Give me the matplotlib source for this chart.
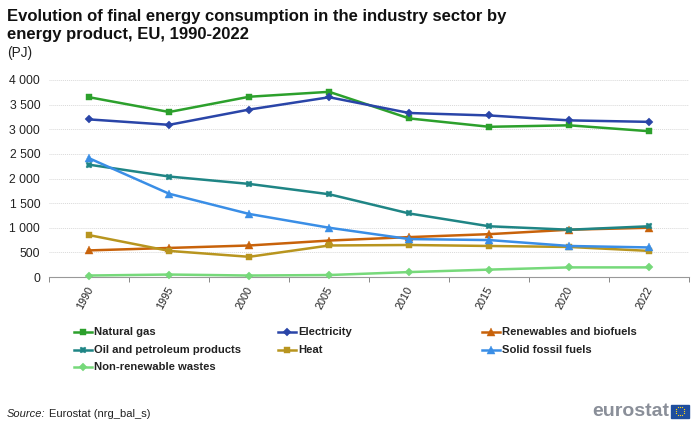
import matplotlib
matplotlib.use("Agg")
import matplotlib.pyplot as plt
from matplotlib.lines import Line2D
from matplotlib.patches import Rectangle
import numpy as np

plt.rcParams['font.family'] = ['Liberation Sans', 'DejaVu Sans']

W, H = 700, 423

years = ["1990", "1995", "2000", "2005", "2010", "2015", "2020", "2022"]
natural_gas = [3650, 3350, 3660, 3760, 3220, 3050, 3080, 2960]
electricity = [3200, 3090, 3400, 3650, 3330, 3280, 3180, 3150]
renewables = [540, 590, 640, 740, 810, 870, 960, 1000]
oil = [2280, 2040, 1890, 1680, 1290, 1030, 960, 1030]
heat = [850, 530, 410, 640, 650, 630, 610, 530]
solid_fossil = [2410, 1690, 1280, 1000, 770, 750, 630, 600]
wastes = [30, 50, 30, 40, 100, 150, 195, 195]
y_ticks = [0, 500, 1000, 1500, 2000, 2500, 3000, 3500, 4000]

# legend layout is row by row
series = [
    ("Natural gas", natural_gas, "#2ca02c", "s", 4.8),
    ("Electricity", electricity, "#2a45a8", "D", 3.6),
    ("Renewables and biofuels", renewables, "#c8620a", "^", 5.2),
    ("Oil and petroleum products", oil, "#1f8585", "X", 4.8),
    ("Heat", heat, "#b8951f", "s", 4.8),
    ("Solid fossil fuels", solid_fossil, "#3a8ee6", "^", 5.2),
    ("Non-renewable wastes", wastes, "#76d97a", "D", 3.6),
]


def fx(px):
    return px / W


def fy(px):
    return 1 - px / H


fig = plt.figure(figsize=(W / 100, H / 100), dpi=100)
ax = fig.add_axes([fx(49.2), fy(277), 640 / W, (277 - 80) / H])

x = np.arange(len(years))
for name, vals, color, marker, size in series:
    ax.plot(x, vals, color=color, lw=1.8, marker=marker, ms=size, mew=0.3, clip_on=False, zorder=3)

ax.set_xlim(-0.5, len(years) - 0.5)
ax.set_ylim(0, 4000)
ax.set_yticks(y_ticks)
ax.set_yticklabels([f"{v:,}".replace(",", " ") for v in y_ticks], fontsize=8.8, color="#222222")
ax.set_xticks(np.arange(len(years) + 1) - 0.5)
ax.set_xticklabels([])
ax.tick_params(axis="x", length=3.5, width=0.7, color="#888888")
ax.tick_params(axis="y", length=0, pad=6.5)
ax.grid(axis="y", color="#d9d9d9", lw=0.7, ls=(0, (1, 1)))
ax.set_axisbelow(True)
for side in ["top", "left", "right"]:
    ax.spines[side].set_visible(False)
ax.spines["bottom"].set_color("#999999")

for i, year in enumerate(years):
    ax.annotate(year, (i, 0), xytext=(-3.2, -5.5), textcoords="offset points", rotation=62,
                ha="center", va="top", fontsize=7.8, color="#222222")

fig.text(fx(7), fy(42), "Evolution of final energy consumption in the industry sector by\nenergy product, EU, 1990-2022",
         fontsize=12, fontweight="bold", color="#111111", va="bottom", linespacing=1.25)
fig.text(fx(7), fy(60), "(PJ)", fontsize=9.8, color="#222222", va="bottom")

# legend placed by hand, columns are not evenly spaced
leg_x = [74, 278, 482]
leg_y = [332, 349.5, 366.5]
for i, (name, vals, color, marker, size) in enumerate(series):
    lx = leg_x[i % 3]
    ly = leg_y[i // 3]
    fig.add_artist(Line2D([fx(lx), fx(lx + 18)], [fy(ly), fy(ly)], color=color, lw=1.8,
                          transform=fig.transFigure))
    fig.add_artist(Line2D([fx(lx + 9)], [fy(ly)], color=color, marker=marker, ms=size, mew=0.3,
                          transform=fig.transFigure))
    fig.text(fx(lx + 20), fy(ly), name, fontsize=8.15, fontweight="bold", color="#222222", va="center")

fig.text(fx(7), fy(414), "Source:", fontsize=8, style="italic", color="#222222", va="center")
fig.text(fx(49), fy(414), "Eurostat (nrg_bal_s)", fontsize=8, color="#222222", va="center")

# eurostat logo
fig.text(fx(669.5), fy(411.5), "eurostat", fontsize=14, fontweight="bold", color="#8a8f99", va="center", ha="right")
fig.add_artist(Rectangle((fx(671), fy(417.5)), 18 / W, 13 / H, color="#1f4e9e", transform=fig.transFigure))
for a in np.arange(12) * np.pi / 6:
    fig.add_artist(Line2D([fx(680 + 4.2 * np.cos(a))], [fy(411 + 4.2 * np.sin(a))], color="#ffd617",
                          marker="o", ms=0.9, mew=0, transform=fig.transFigure))

fig.savefig("out.png", dpi=100)
